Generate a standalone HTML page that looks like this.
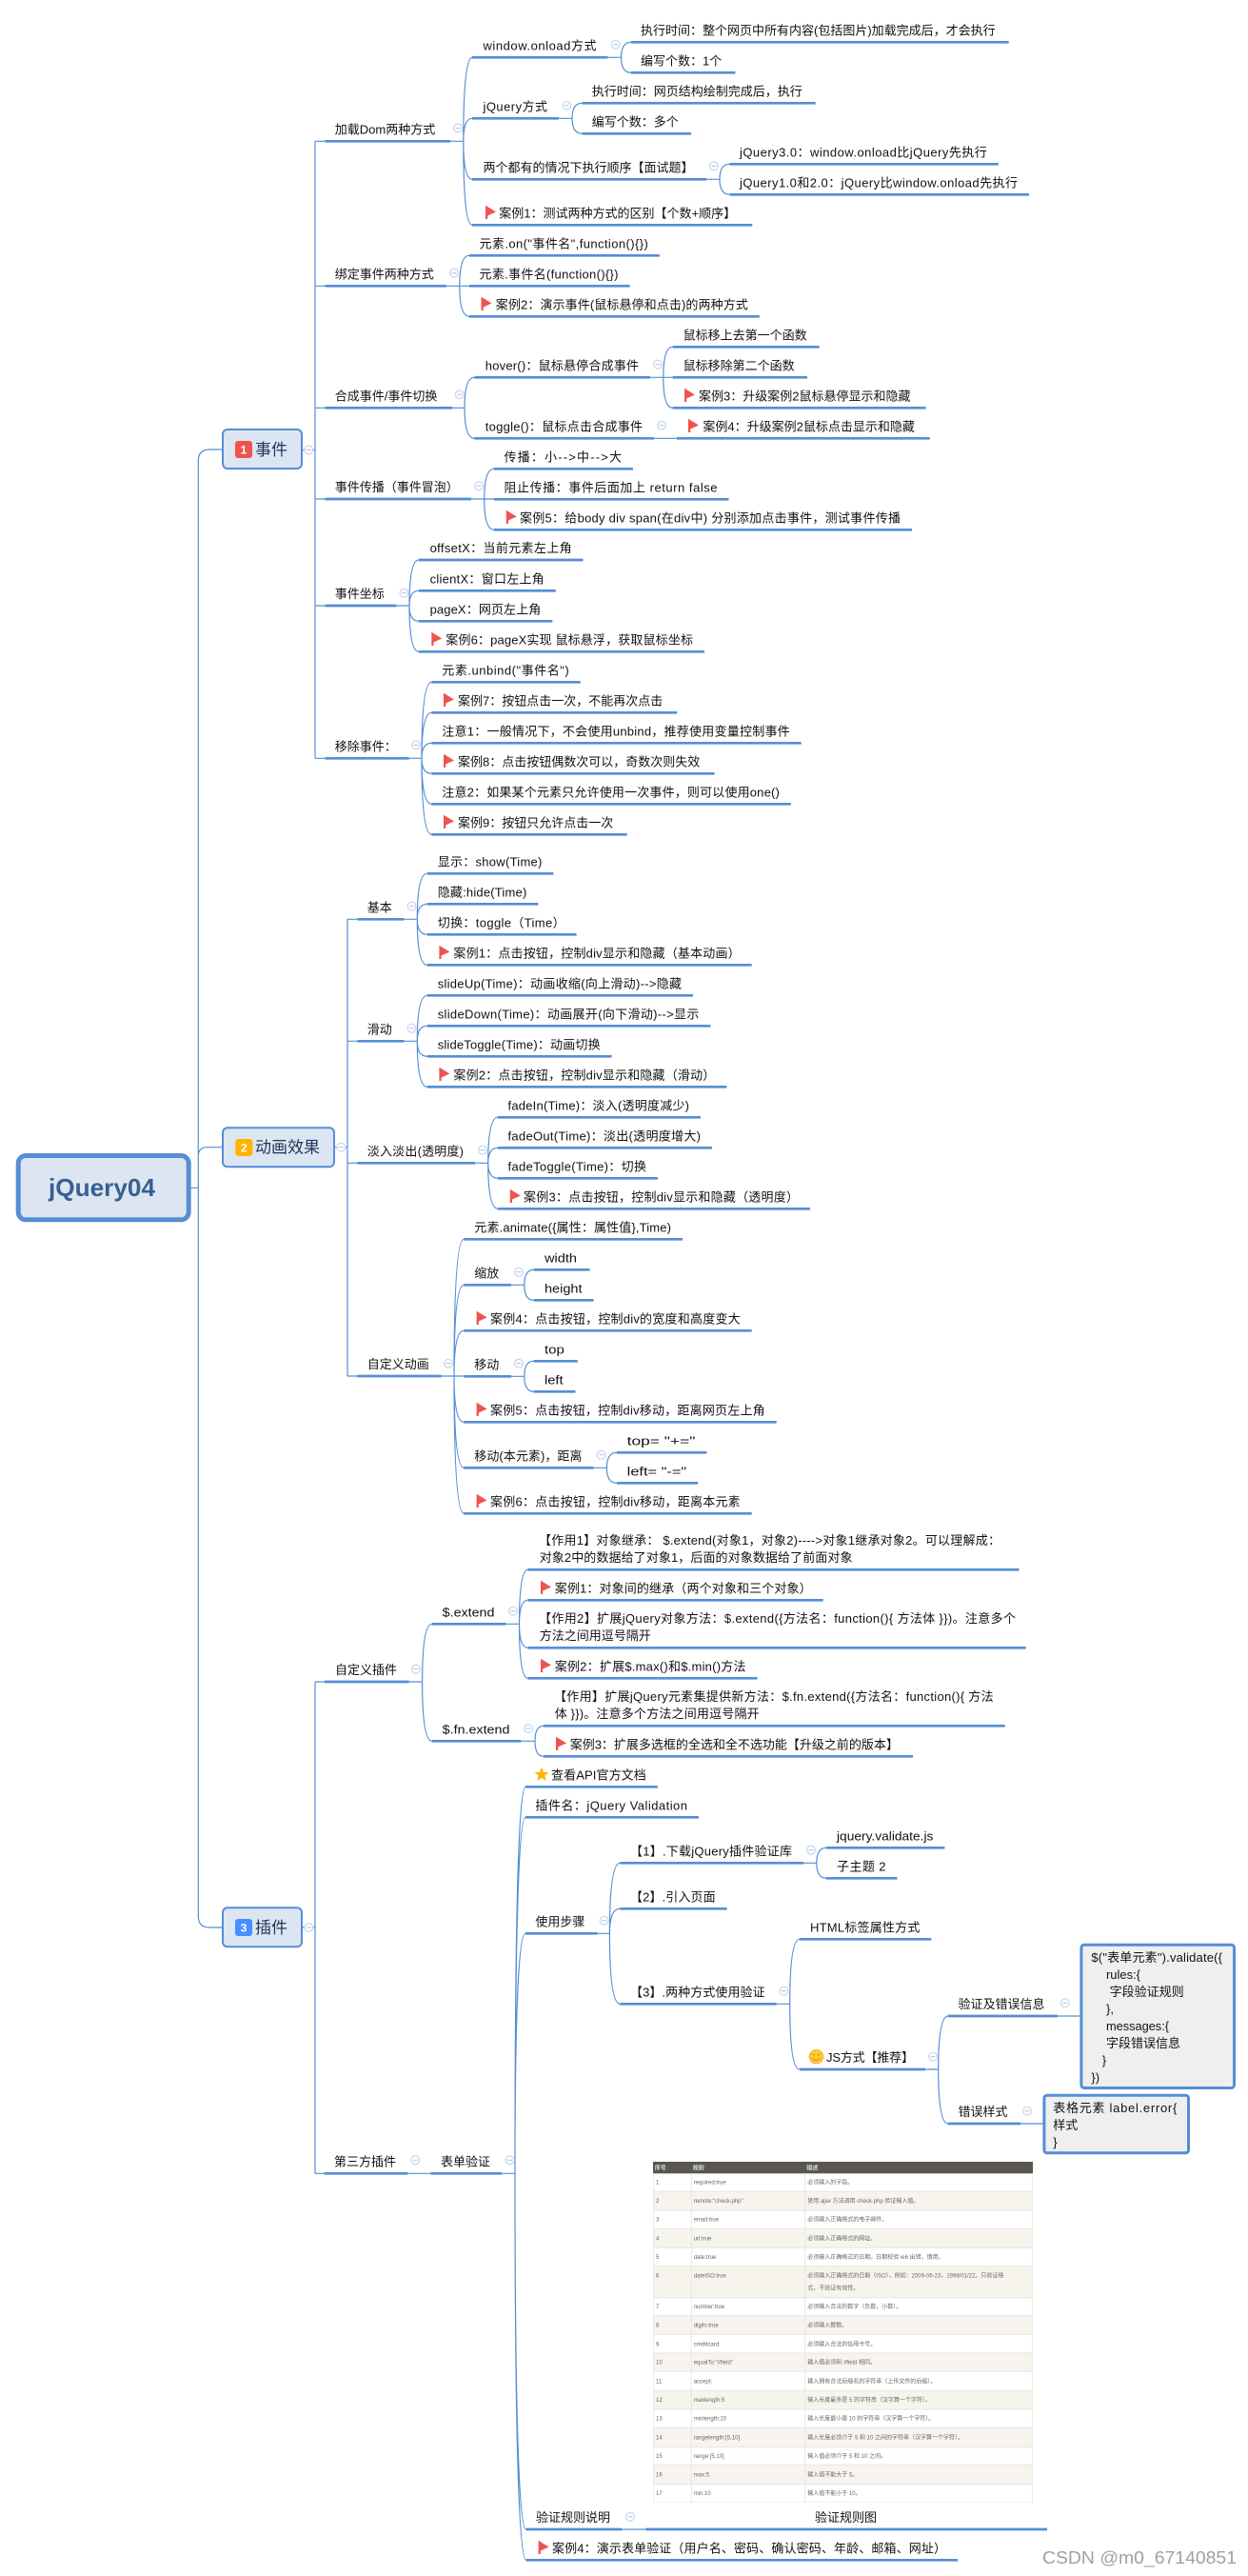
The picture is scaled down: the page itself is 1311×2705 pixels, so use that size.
<!DOCTYPE html>
<html><head><meta charset="utf-8"><title>jQuery04</title>
<style>
html,body{margin:0;padding:0;background:#fff}
svg{display:block;white-space:pre;font-family:"Liberation Sans","Noto Sans CJK SC",sans-serif}
.t text{font-size:13px;fill:#111}
.tb text{font-size:6px;fill:#666}
</style></head><body>
<svg xmlns="http://www.w3.org/2000/svg" width="1311" height="2705" viewBox="0 0 1311 2705">
<defs>
<g id="c"><circle r="4.4" fill="#fff" stroke="#c6d5ef" stroke-width="1.2"/><path d="M-2.4 0H2.4" stroke="#aebfdc" stroke-width="1"/></g>
<polygon id="f" points="0,-20.6 11,-13.8 2.2,-9.8 2.2,-6.3 0,-6.3" fill="#ee5350"/>
<filter id="b" x="0" y="0" width="100%" height="100%"><feGaussianBlur stdDeviation="0.25"/></filter>
</defs>

<!-- table image -->
<g filter="url(#b)">
<rect x="686" y="2270" width="399" height="358" fill="#fff"/>
<rect x="686" y="2270" width="399" height="12.3" fill="#595650"/>
<g fill="#f7f4ee">
<rect x="686" y="2301.3" width="399" height="19.7"/><rect x="686" y="2340.3" width="399" height="20"/><rect x="686" y="2379.7" width="399" height="33"/><rect x="686" y="2431.7" width="399" height="19.6"/><rect x="686" y="2471" width="399" height="19.3"/><rect x="686" y="2510.3" width="399" height="19.7"/><rect x="686" y="2549.3" width="399" height="20.4"/><rect x="686" y="2588.3" width="399" height="20.4"/>
</g>
<path d="M686 2301.3H1085M686 2321H1085M686 2340.3H1085M686 2360.3H1085M686 2379.7H1085M686 2412.7H1085M686 2431.7H1085M686 2451.3H1085M686 2471H1085M686 2490.3H1085M686 2510.3H1085M686 2530H1085M686 2549.3H1085M686 2569.7H1085M686 2588.3H1085M686 2608.7H1085M686 2628H1085M686.3 2282V2628M726.3 2282V2628M845.7 2282V2628M1084.7 2282V2628" fill="none" stroke="#e6e6e2" stroke-width="1"/>
<g font-size="6" font-weight="bold" fill="#ddd"><text x="687.7" y="2278.7">序号</text><text x="727.7" y="2278.7">规则</text><text x="847.3" y="2278.7">描述</text></g>
<g class="tb">
<text x="689" y="2293.7">1</text><text x="728.7" y="2293.7">required:true</text><text x="848.3" y="2293.7">必须输入的字段。</text>
<text x="689" y="2313">2</text><text x="728.7" y="2313">remote:"check.php"</text><text x="848.3" y="2313">使用 ajax 方法调用 check.php 验证输入值。</text>
<text x="689" y="2332.7">3</text><text x="728.7" y="2332.7">email:true</text><text x="848.3" y="2332.7">必须输入正确格式的电子邮件。</text>
<text x="689" y="2352.3">4</text><text x="728.7" y="2352.3">url:true</text><text x="848.3" y="2352.3">必须输入正确格式的网址。</text>
<text x="689" y="2372">5</text><text x="728.7" y="2372">date:true</text><text x="848.3" y="2372">必须输入正确格式的日期。日期校验 ie6 出错，慎用。</text>
<text x="689" y="2391.7">6</text><text x="728.7" y="2391.7">dateISO:true</text><text x="848.3" y="2391.7">必须输入正确格式的日期（ISO），例如：2009-06-23，1998/01/22。只验证格</text><text x="848.3" y="2404.3">式，不验证有效性。</text>
<text x="689" y="2424">7</text><text x="728.7" y="2424">number:true</text><text x="848.3" y="2424">必须输入合法的数字（负数，小数）。</text>
<text x="689" y="2443.7">8</text><text x="728.7" y="2443.7">digits:true</text><text x="848.3" y="2443.7">必须输入整数。</text>
<text x="689" y="2463.3">9</text><text x="728.7" y="2463.3">creditcard:</text><text x="848.3" y="2463.3">必须输入合法的信用卡号。</text>
<text x="689" y="2482.7">10</text><text x="728.7" y="2482.7">equalTo:"#field"</text><text x="848.3" y="2482.7">输入值必须和 #field 相同。</text>
<text x="689" y="2502.3">11</text><text x="728.7" y="2502.3">accept:</text><text x="848.3" y="2502.3">输入拥有合法后缀名的字符串（上传文件的后缀）。</text>
<text x="689" y="2522">12</text><text x="728.7" y="2522">maxlength:5</text><text x="848.3" y="2522">输入长度最多是 5 的字符串（汉字算一个字符）。</text>
<text x="689" y="2541.7">13</text><text x="728.7" y="2541.7">minlength:10</text><text x="848.3" y="2541.7">输入长度最小是 10 的字符串（汉字算一个字符）。</text>
<text x="689" y="2561.3">14</text><text x="728.7" y="2561.3">rangelength:[5,10]</text><text x="848.3" y="2561.3">输入长度必须介于 5 和 10 之间的字符串（汉字算一个字符）。</text>
<text x="689" y="2581">15</text><text x="728.7" y="2581">range:[5,10]</text><text x="848.3" y="2581">输入值必须介于 5 和 10 之间。</text>
<text x="689" y="2600.7">16</text><text x="728.7" y="2600.7">max:5</text><text x="848.3" y="2600.7">输入值不能大于 5。</text>
<text x="689" y="2620">17</text><text x="728.7" y="2620">min:10</text><text x="848.3" y="2620">输入值不能小于 10。</text>
</g>
</g>

<!-- connectors -->
<path fill="none" stroke="#558ed5" stroke-width="1.2" d="
M200.7 1247.3H208.3
M233 472H220Q208.3 472 208.3 484V2012Q208.3 2024 220 2024H233
M233 1204.7H218Q208.3 1204.7 208.3 1214
M317.7 472.3H331M351.7 1204.7H365M317.7 2024H331
M331 148.3V796.3
M331 148.3H341.4M331 300.3H341.4M331 428.3H341.4M331 524H341.4M331 636H341.4M331 796.3H341.4
M365 965.3V1445
M365 965.3H375.4M365 1093.3H375.4M365 1221.3H375.4M365 1445H375.4
M331 1766V2282.3
M331 1766H341M331 2282.3H341

M473 148.3H486.8
M486.8 148.3Q486.8 60.3 496 60.3M486.8 148.3Q486.8 124.3 496 124.3M486.8 148.3Q486.8 188.3 496 188.3M486.8 148.3Q486.8 236.3 496 236.3
M638.5 60.3H652.6M652.6 60.3Q652.6 44.3 662.8 44.3M652.6 60.3Q652.6 76.3 662.8 76.3
M587 124.3H601M601 124.3Q601 108.3 611.6 108.3M601 124.3Q601 140.3 611.6 140.3
M742.4 188.3H756M756 188.3Q756 172.3 766.6 172.3M756 188.3Q756 204.3 766.6 204.3

M468.9 300.3H482.8M482.8 300.3Q482.8 268.3 493 268.3M482.8 300.3H493M482.8 300.3Q482.8 332.3 493 332.3

M475.3 428.3H488M488 428.3Q488 396.3 498.3 396.3M488 428.3Q488 460.3 498.3 460.3
M683 396.3H696.8M696.8 396.3Q696.8 364.3 706.6 364.3M696.8 396.3H706.6M696.8 396.3Q696.8 428.3 706.6 428.3
M687 460.3H711

M495 524H508.7M508.7 524Q508.7 492.3 519 492.3M508.7 524H519M508.7 524Q508.7 556.3 519 556.3

M416.4 636H430M430 636Q430 588 440 588M430 636Q430 620.3 440 620.3M430 636Q430 652.3 440 652.3M430 636Q430 684.3 440 684.3

M429.7 796.3H443M443 796.3Q443 716.3 453.3 716.3M443 796.3Q443 748.3 453.3 748.3M443 796.3Q443 780.3 453.3 780.3M443 796.3Q443 812.3 453.3 812.3M443 796.3Q443 844.3 453.3 844.3M443 796.3Q443 876.3 453.3 876.3

M424.5 965.3H438.3M438.3 965.3Q438.3 917.3 448.7 917.3M438.3 965.3Q438.3 949.3 448.7 949.3M438.3 965.3Q438.3 981.3 448.7 981.3M438.3 965.3Q438.3 1013.3 448.7 1013.3
M424.5 1093.3H438.3M438.3 1093.3Q438.3 1045.3 448.7 1045.3M438.3 1093.3Q438.3 1077.3 448.7 1077.3M438.3 1093.3Q438.3 1109.3 448.7 1109.3M438.3 1093.3Q438.3 1141.3 448.7 1141.3
M499 1221.3H512.7M512.7 1221.3Q512.7 1173.3 523 1173.3M512.7 1221.3Q512.7 1205.3 523 1205.3M512.7 1221.3Q512.7 1237.3 523 1237.3M512.7 1221.3Q512.7 1269.3 523 1269.3

M463.7 1445H477M477 1445Q477 1301.3 487.3 1301.3M477 1445Q477 1349.3 487.3 1349.3M477 1445Q477 1397.3 487.3 1397.3M477 1445H487.3M477 1445Q477 1493.3 487.3 1493.3M477 1445Q477 1541.3 487.3 1541.3M477 1445Q477 1589.3 487.3 1589.3
M537 1349.3H550.8M550.8 1349.3Q550.8 1333.3 560.6 1333.3M550.8 1349.3Q550.8 1365.3 560.6 1365.3
M537 1445.3H550.8M550.8 1445.3Q550.8 1429.3 560.6 1429.3M550.8 1445.3Q550.8 1461.3 560.6 1461.3
M623.5 1541.3H637.4M637.4 1541.3Q637.4 1525.3 647.8 1525.3M637.4 1541.3Q637.4 1557.3 647.8 1557.3

M429.5 1766H443.6M443.6 1766Q443.6 1705.3 453.8 1705.3M443.6 1766Q443.6 1828.3 453.8 1828.3
M531.4 1705.3H545.5M545.5 1705.3Q545.5 1648.3 554.5 1648.3M545.5 1705.3Q545.5 1680.3 554.5 1680.3M545.5 1705.3Q545.5 1730.3 554.5 1730.3M545.5 1705.3Q545.5 1762.3 554.5 1762.3
M547.4 1828.3H562M562 1828.3Q562 1812.3 571 1812.3M562 1828.3Q562 1844.3 571 1844.3

M428.3 2282.3H452.3M527.3 2282.3H541
M541 2282.3Q541 1876.3 552 1876.3M541 2282.3Q541 1908.3 552 1908.3M541 2282.3Q541 2030.3 552 2030.3M541 2282.3Q541 2656 552.7 2656M541 2282.3Q541 2688.3 552.7 2688.3
M627.4 2030.3H640.4M640.4 2030.3Q640.4 1956.3 651.3 1956.3M640.4 2030.3Q640.4 2004.3 651.3 2004.3M640.4 2030.3Q640.4 2104.3 651.3 2104.3
M844 1956.3H857.8M857.8 1956.3Q857.8 1940.3 868 1940.3M857.8 1956.3Q857.8 1972.3 868 1972.3
M815.6 2104.3H829.7M829.7 2104.3Q829.7 2036.3 840 2036.3M829.7 2104.3Q829.7 2173 840 2173
M972 2173H985.7M985.7 2173Q985.7 2117 996 2117M985.7 2173Q985.7 2230 996 2230
M1111 2117H1134M1072 2230H1095.4
M653.4 2656H678.4"/>

<!-- underlines -->
<path fill="none" stroke="#558ed5" stroke-width="2.7" d="
M341.4 148.3H473M496 60.3H638.5M662.8 44.3H1059.7M662.8 76.3H772.4M496 124.3H587M611.6 108.3H856.7M611.6 140.3H726M496 188.3H742.4M766.6 172.3H1048.8M766.6 204.3H1081M496 236.3H790.3
M341.4 300.3H468.9M493 268.3H692.8M493 300.3H661.6M493 332.3H797.8
M341.4 428.3H475.3M498.3 396.3H683M706.6 364.3H860.7M706.6 396.3H848M706.6 428.3H972.6M498.3 460.3H687M711 460.3H976.8
M341.4 524H495M519 492.3H665M519 524.3H765.5M519 556.3H958
M341.4 636H416.4M440 588H612.6M440 620.3H583.8M440 652.3H580.3M440 684.3H740
M341.4 796.3H429.7M453.3 716.3H609.7M453.3 748.3H711.2M453.3 780.3H841.7M453.3 812.3H750.5M453.3 844.3H830.8M453.3 876.3H658.7
M375.4 965.3H424.5M448.7 917.3H581.4M448.7 949.3H565.3M448.7 981.3H605.6M448.7 1013.3H789.7
M375.4 1093.3H424.5M448.7 1045.3H728M448.7 1077.3H746.4M448.7 1109.3H642.6M448.7 1141.3H763.3
M375.4 1221.3H499M523 1173.3H736M523 1205.3H748M523 1237.3H691M523 1269.3H851
M375.4 1445H463.7M487.3 1301.3H717M487.3 1349.3H537M560.6 1333.3H619.5M560.6 1365.3H623.5M487.3 1397.3H789.7M487.3 1445.3H537M560.6 1429.3H606.8M560.6 1461.3H604.5M487.3 1493.3H815.7M487.3 1541.3H623.5M647.8 1525.3H742.4M647.8 1557.3H733.2M487.3 1589.3H789.7
M341 1766H429.5M453.8 1705.3H531.4M554.5 1648.3H1070.5M554.5 1680.3H864.7M554.5 1730.3H1077.6M554.5 1762.3H795.5M453.8 1828.3H547.4M571 1812.3H1055.7M571 1844.3H959
M340.7 2282.3H428.3M452.3 2282.3H527.3M552 1876.3H690.8M552 1908.3H734M552 2030.3H627.4M651.3 1956.3H844M868 1940.3H992.4M868 1972.3H942.5M651.3 2004.3H763.6M651.3 2104.3H815.6M840 2036.3H978.4M840 2173H972M996 2117H1111M996 2230H1072
M552.7 2656H653.4M678.4 2656H1100M552.7 2688.3H1006"/>

<!-- collapse circles -->
<use href="#c" x="324.3" y="472.5"/><use href="#c" x="358.3" y="1204.7"/><use href="#c" x="324.3" y="2024"/>
<use href="#c" x="481" y="134.5"/><use href="#c" x="646.6" y="46.7"/><use href="#c" x="595.3" y="110.7"/><use href="#c" x="749.9" y="174.3"/>
<use href="#c" x="477" y="286.7"/><use href="#c" x="482.8" y="414.3"/><use href="#c" x="691" y="382.7"/><use href="#c" x="695" y="446.7"/>
<use href="#c" x="503" y="510.3"/><use href="#c" x="424.5" y="622.7"/><use href="#c" x="437" y="782.3"/>
<use href="#c" x="432.5" y="951.7"/><use href="#c" x="432.5" y="1079.7"/><use href="#c" x="507" y="1207.7"/><use href="#c" x="471" y="1431.7"/>
<use href="#c" x="545" y="1335.7"/><use href="#c" x="545" y="1431.7"/><use href="#c" x="631.6" y="1527.7"/>
<use href="#c" x="437" y="1752.7"/><use href="#c" x="539" y="1691.7"/><use href="#c" x="555" y="1815"/>
<use href="#c" x="436.3" y="2268.3"/><use href="#c" x="535.7" y="2268.3"/>
<use href="#c" x="634.7" y="2016.7"/><use href="#c" x="852" y="1942.7"/><use href="#c" x="823.4" y="2090.7"/><use href="#c" x="980" y="2159.7"/>
<use href="#c" x="1118.8" y="2103.3"/><use href="#c" x="1079" y="2216.7"/><use href="#c" x="662" y="2642.7"/>

<!-- flags -->
<use href="#f" x="510" y="236.3"/><use href="#f" x="505.5" y="332.3"/><use href="#f" x="719" y="428.3"/><use href="#f" x="723" y="460.3"/><use href="#f" x="531.8" y="556.3"/><use href="#f" x="453.3" y="684.3"/>
<use href="#f" x="466" y="748.3"/><use href="#f" x="466" y="812.3"/><use href="#f" x="466" y="876.3"/>
<use href="#f" x="461.4" y="1013.3"/><use href="#f" x="461.4" y="1141.3"/><use href="#f" x="535.8" y="1269.3"/>
<use href="#f" x="500.6" y="1397.3"/><use href="#f" x="500.6" y="1493.3"/><use href="#f" x="500.6" y="1589.3"/>
<use href="#f" x="568" y="1680.3"/><use href="#f" x="568" y="1762.3"/><use href="#f" x="584" y="1844.3"/><use href="#f" x="565.6" y="2688.3"/>

<!-- star / smile -->
<polygon points="569,1855.5 571,1860.7 576.5,1861 572.3,1864.5 573.8,1870 569,1867 564.2,1870 565.7,1864.5 561.5,1861 567,1860.7" fill="#ffb400"/>
<circle cx="857.5" cy="2159.7" r="7.3" fill="#ffc933" stroke="#f4a820" stroke-width=".8"/>
<path d="M853.5 2158q1.2-1.5 2.4 0M859 2158q1.2-1.5 2.4 0M853.5 2161.5q4 4 8 0" fill="none" stroke="#d98a10" stroke-width=".9"/>

<!-- L0 / L1 boxes -->
<rect x="19.2" y="1213.5" width="179" height="67.3" rx="8" fill="#dce6f2" stroke="#558ed5" stroke-width="5"/>
<text x="51" y="1256" font-size="26" font-weight="bold" fill="#376092" textLength="112" lengthAdjust="spacingAndGlyphs">jQuery04</text>
<rect x="234" y="451" width="83" height="41" rx="5" fill="#dce6f2" stroke="#558ed5" stroke-width="2"/>
<rect x="247" y="463" width="18" height="18" rx="3" fill="#ee5350"/><text x="256" y="476.5" font-size="12" font-weight="bold" fill="#fff" text-anchor="middle">1</text>
<text x="268" y="478" font-size="17" fill="#24345a">事件</text>
<rect x="234" y="1184.3" width="117" height="41" rx="5" fill="#dce6f2" stroke="#558ed5" stroke-width="2"/>
<rect x="247.3" y="1196" width="18" height="18" rx="3" fill="#ffb400"/><text x="256.3" y="1209.5" font-size="12" font-weight="bold" fill="#fff" text-anchor="middle">2</text>
<text x="268" y="1210.7" font-size="17" fill="#24345a">动画效果</text>
<rect x="234" y="2003.3" width="83" height="41" rx="5" fill="#dce6f2" stroke="#558ed5" stroke-width="2"/>
<rect x="247" y="2015" width="18" height="18" rx="3" fill="#4a8fff"/><text x="256" y="2028.5" font-size="12" font-weight="bold" fill="#fff" text-anchor="middle">3</text>
<text x="268" y="2030" font-size="17" fill="#24345a">插件</text>

<!-- note boxes -->
<rect x="1135.9" y="2042.2" width="160.6" height="150.3" rx="3" fill="#efefef" stroke="#558ed5" stroke-width="3"/>
<rect x="1096.9" y="2200.2" width="151.6" height="60.6" rx="3" fill="#efefef" stroke="#558ed5" stroke-width="3"/>

<!-- labels -->
<g class="t">
<text x="351.8" y="140.3">加载Dom两种方式</text>
<text x="507.5" y="52.3" textLength="119">window.onload方式</text>
<text x="673" y="36.3">执行时间：整个网页中所有内容(包括图片)加载完成后，才会执行</text>
<text x="673" y="68.3">编写个数：1个</text>
<text x="507.5" y="116.3" textLength="67.5">jQuery方式</text>
<text x="621.8" y="100.3">执行时间：网页结构绘制完成后，执行</text>
<text x="621.8" y="132.3">编写个数：多个</text>
<text x="507.5" y="180.3">两个都有的情况下执行顺序【面试题】</text>
<text x="777" y="164.3" textLength="259.8">jQuery3.0：window.onload比jQuery先执行</text>
<text x="777" y="196.3" textLength="292">jQuery1.0和2.0：jQuery比window.onload先执行</text>
<text x="524.3" y="228.3">案例1：测试两种方式的区别【个数+顺序】</text>

<text x="351.8" y="292.3">绑定事件两种方式</text>
<text x="503.5" y="260.3" textLength="177.3">元素.on("事件名",function(){})</text>
<text x="503.5" y="292.3" textLength="146">元素.事件名(function(){})</text>
<text x="520.8" y="324.3" textLength="265">案例2：演示事件(鼠标悬停和点击)的两种方式</text>

<text x="351.8" y="420.3">合成事件/事件切换</text>
<text x="509.8" y="388.3" textLength="161.2">hover()：鼠标悬停合成事件</text>
<text x="717.6" y="356.3">鼠标移上去第一个函数</text>
<text x="717.6" y="388.3">鼠标移除第二个函数</text>
<text x="734" y="420.3">案例3：升级案例2鼠标悬停显示和隐藏</text>
<text x="509.8" y="452.3" textLength="165.2">toggle()：鼠标点击合成事件</text>
<text x="738.4" y="452.3">案例4：升级案例2鼠标点击显示和隐藏</text>

<text x="351.8" y="516">事件传播（事件冒泡）</text>
<text x="529.5" y="484.3" textLength="123.5">传播：小--&gt;中--&gt;大</text>
<text x="529.5" y="516.3" textLength="224">阻止传播：事件后面加上  return false</text>
<text x="546" y="548.3" textLength="400">案例5：给body div span(在div中) 分别添加点击事件，测试事件传播</text>

<text x="351.8" y="628">事件坐标</text>
<text x="451.6" y="580" textLength="149">offsetX：当前元素左上角</text>
<text x="451.6" y="612.3" textLength="120.2">clientX：窗口左上角</text>
<text x="451.6" y="644.3" textLength="116.7">pageX：网页左上角</text>
<text x="468.3" y="676.3" textLength="259.7">案例6：pageX实现 鼠标悬浮，获取鼠标坐标</text>

<text x="351.8" y="788.3">移除事件：</text>
<text x="464.3" y="708.3" textLength="133.4">元素.unbind("事件名")</text>
<text x="481" y="740.3">案例7：按钮点击一次，不能再次点击</text>
<text x="464.3" y="772.3" textLength="365.4">注意1：一般情况下，不会使用unbind，推荐使用变量控制事件</text>
<text x="481" y="804.3">案例8：点击按钮偶数次可以，奇数次则失效</text>
<text x="464.3" y="836.3" textLength="354.5">注意2：如果某个元素只允许使用一次事件，则可以使用one()</text>
<text x="481" y="868.3">案例9：按钮只允许点击一次</text>

<text x="385.8" y="957.3">基本</text>
<text x="459.7" y="909.3" textLength="109.7">显示：show(Time)</text>
<text x="459.7" y="941.3" textLength="93.6">隐藏:hide(Time)</text>
<text x="459.7" y="973.3" textLength="133.9">切换：toggle（Time）</text>
<text x="476.4" y="1005.3" textLength="301.3">案例1：点击按钮，控制div显示和隐藏（基本动画）</text>
<text x="385.8" y="1085.3">滑动</text>
<text x="459.7" y="1037.3" textLength="256.3">slideUp(Time)：动画收缩(向上滑动)--&gt;隐藏</text>
<text x="459.7" y="1069.3" textLength="274.7">slideDown(Time)：动画展开(向下滑动)--&gt;显示</text>
<text x="459.7" y="1101.3" textLength="170.9">slideToggle(Time)：动画切换</text>
<text x="476.4" y="1133.3" textLength="274.9">案例2：点击按钮，控制div显示和隐藏（滑动）</text>
<text x="385.8" y="1213.3" textLength="101.2">淡入淡出(透明度)</text>
<text x="533.5" y="1165.3" textLength="190.5">fadeIn(Time)：淡入(透明度减少)</text>
<text x="533.5" y="1197.3" textLength="202.5">fadeOut(Time)：淡出(透明度增大)</text>
<text x="533.5" y="1229.3" textLength="145.5">fadeToggle(Time)：切换</text>
<text x="550" y="1261.3" textLength="289">案例3：点击按钮，控制div显示和隐藏（透明度）</text>

<text x="385.8" y="1437">自定义动画</text>
<text x="498.3" y="1293.3" textLength="206.7">元素.animate({属性：属性值},Time)</text>
<text x="498.3" y="1341.3">缩放</text>
<text x="572" y="1325.3" textLength="34" lengthAdjust="spacingAndGlyphs">width</text>
<text x="572" y="1357.3" textLength="39.5" lengthAdjust="spacingAndGlyphs">height</text>
<text x="515" y="1389.3" textLength="262.7">案例4：点击按钮，控制div的宽度和高度变大</text>
<text x="498.3" y="1437.3">移动</text>
<text x="572" y="1421.3" textLength="20.8" lengthAdjust="spacingAndGlyphs">top</text>
<text x="572" y="1453.3" textLength="19.6" lengthAdjust="spacingAndGlyphs">left</text>
<text x="515" y="1485.3" textLength="288.7">案例5：点击按钮，控制div移动，距离网页左上角</text>
<text x="498.3" y="1533.3" textLength="113.2">移动(本元素)，距离</text>
<text x="658.7" y="1517.3" textLength="71.7" lengthAdjust="spacingAndGlyphs">top=  "+="</text>
<text x="658.7" y="1549.3" textLength="62.5" lengthAdjust="spacingAndGlyphs">left= "-="</text>
<text x="515" y="1581.3" textLength="262.7">案例6：点击按钮，控制div移动，距离本元素</text>

<text x="352" y="1758">自定义插件</text>
<text x="464.7" y="1697.3" textLength="54.7" lengthAdjust="spacingAndGlyphs">$.extend</text>
<text x="566" y="1622" textLength="485">【作用1】对象继承： $.extend(对象1，对象2)----&gt;对象1继承对象2。可以理解成：</text>
<text x="566.7" y="1640" textLength="328.8">对象2中的数据给了对象1，后面的对象数据给了前面对象</text>
<text x="582.7" y="1672.3" textLength="270">案例1：对象间的继承（两个对象和三个对象）</text>
<text x="566" y="1704" textLength="501">【作用2】扩展jQuery对象方法：$.extend({方法名：function(){ 方法体  }})。注意多个</text>
<text x="566.7" y="1722">方法之间用逗号隔开</text>
<text x="582.7" y="1754.3" textLength="200.8">案例2：扩展$.max()和$.min()方法</text>
<text x="464.7" y="1820.3" textLength="70.7" lengthAdjust="spacingAndGlyphs">$.fn.extend</text>
<text x="582" y="1786" textLength="461.6">【作用】扩展jQuery元素集提供新方法：$.fn.extend({方法名：function(){ 方法</text>
<text x="582.7" y="1804" textLength="215">体  }})。注意多个方法之间用逗号隔开</text>
<text x="598.7" y="1836.3">案例3：扩展多选框的全选和全不选功能【升级之前的版本】</text>

<text x="351" y="2274.3">第三方插件</text>
<text x="463" y="2274.3">表单验证</text>
<text x="579" y="1868.3" textLength="99.8">查看API官方文档</text>
<text x="562.4" y="1900.3" textLength="159.6">插件名：jQuery Validation</text>
<text x="562.4" y="2022.3">使用步骤</text>
<text x="662" y="1948.3" textLength="170">【1】.下载jQuery插件验证库</text>
<text x="879" y="1932.3" textLength="101.4" lengthAdjust="spacingAndGlyphs">jquery.validate.js</text>
<text x="879" y="1964.3" textLength="51.5">子主题 2</text>
<text x="662" y="1996.3" textLength="89.6">【2】.引入页面</text>
<text x="662" y="2096.3" textLength="141.6">【3】.两种方式使用验证</text>
<text x="851" y="2028.3" textLength="115.4">HTML标签属性方式</text>
<text x="868" y="2165" textLength="92">JS方式【推荐】</text>
<text x="1006.5" y="2109">验证及错误信息</text>
<text x="1006.5" y="2222">错误样式</text>
<text x="1146.4" y="2060" textLength="137.6">$("表单元素").validate({</text>
<text x="1162" y="2078" textLength="36" lengthAdjust="spacingAndGlyphs">rules:{</text>
<text x="1165.6" y="2096">字段验证规则</text>
<text x="1162" y="2114">},</text>
<text x="1162" y="2132" textLength="66" lengthAdjust="spacingAndGlyphs">messages:{</text>
<text x="1162" y="2150">字段错误信息</text>
<text x="1157.8" y="2168">}</text>
<text x="1146.4" y="2186">})</text>
<text x="1106.3" y="2218" textLength="130">表格元素   label.error{</text>
<text x="1106.3" y="2236">样式</text>
<text x="1106.3" y="2254">}</text>
<text x="563" y="2648">验证规则说明</text>
<text x="856" y="2648">验证规则图</text>
<text x="580" y="2680.3" textLength="414">案例4：演示表单验证（用户名、密码、确认密码、年龄、邮箱、网址）</text>
</g>
<text x="1095" y="2692" font-size="18" fill="#a0a0a0" textLength="204" lengthAdjust="spacingAndGlyphs">CSDN @m0_67140851</text>
</svg>
</body></html>
